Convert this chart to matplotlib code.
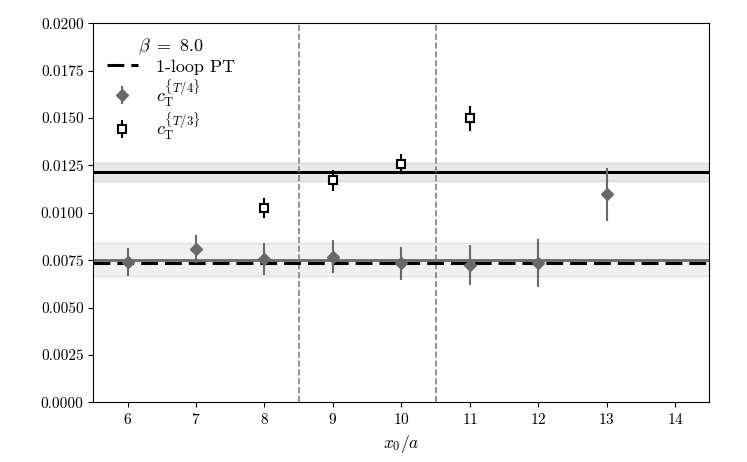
import matplotlib
matplotlib.use("Agg")
import matplotlib.pyplot as plt

plt.rcParams["font.family"] = "serif"
plt.rcParams["font.serif"] = ["cmr10"]
plt.rcParams["mathtext.fontset"] = "cm"
plt.rcParams["axes.formatter.use_mathtext"] = True
plt.rcParams["font.size"] = 11

# c_T^{T/4} data
x_t4 = [6, 7, 8, 9, 10, 11, 12, 13]
y_t4 = [0.00740, 0.00808, 0.00755, 0.00769, 0.00733, 0.00724, 0.00735, 0.01099]
e_t4 = [0.00072, 0.00074, 0.00085, 0.00087, 0.00088, 0.00105, 0.00127, 0.00140]

# c_T^{T/3} data
x_t3 = [8, 9, 10, 11]
y_t3 = [0.01024, 0.01171, 0.01259, 0.01499]
e_t3 = [0.00052, 0.00056, 0.00053, 0.00067]

# fits / reference values
fit_t4, fit_t4_lo, fit_t4_hi = 0.00750, 0.00665, 0.00840
fit_t3, fit_t3_lo, fit_t3_hi = 0.01216, 0.01167, 0.01265
pt_1loop = 0.00737
plateau_edges = [8.5, 10.5]

fig = plt.figure(figsize=(7.47, 4.62), dpi=100)
ax = fig.add_axes([0.125, 0.129, 0.8245, 0.8205])

# shaded bands
ax.axhspan(fit_t4_lo, fit_t4_hi, color="0.94", zorder=0)
ax.axhline(fit_t4_lo, color="0.88", lw=1, zorder=0.5)
ax.axhline(fit_t4_hi, color="0.88", lw=1, zorder=0.5)
ax.axhspan(fit_t3_lo, fit_t3_hi, color="0.91", zorder=0)
ax.axhline(fit_t3_lo, color="0.85", lw=1, zorder=0.5)
ax.axhline(fit_t3_hi, color="0.85", lw=1, zorder=0.5)

ax.axhline(fit_t4, color="dimgray", lw=2, zorder=1)
ax.axhline(fit_t3, color="black", lw=2.2, zorder=1)

for xv in plateau_edges:
    ax.axvline(xv, color="gray", ls="--", lw=1.2, zorder=1)

ax.axhline(pt_1loop, color="black", ls="--", lw=2.2, dashes=(5.5, 2.3),
           zorder=2, label="1-loop PT")

ax.errorbar(x_t4, y_t4, yerr=e_t4, fmt="D", color="dimgray", ms=6.5,
            elinewidth=1.5, capsize=0, zorder=3,
            label=r"$c_{\rm T}^{\{T/4\}}$")
ax.errorbar(x_t3, y_t3, yerr=e_t3, fmt="s", color="black", mfc="white",
            mec="black", mew=1.5, ms=6, elinewidth=1.5, capsize=0, zorder=3,
            label=r"$c_{\rm T}^{\{T/3\}}$")

ax.set_xlim(5.5, 14.5)
ax.set_ylim(0, 0.02)
ax.set_xticks(range(6, 15))
ax.set_yticks([0.0025 * i for i in range(9)])
ax.set_yticklabels(["%.4f" % (0.0025 * i) for i in range(9)])
ax.set_xlabel(r"$x_0/a$", fontsize=12.5)

leg = ax.legend(loc="upper left", frameon=False, title=r"$\beta\ =\ 8.0$",
                fontsize=13, title_fontsize=13, labelspacing=0.1,
                borderpad=0.25, handlelength=1.7, handletextpad=1.0)

plt.savefig("out.png", dpi=100)
